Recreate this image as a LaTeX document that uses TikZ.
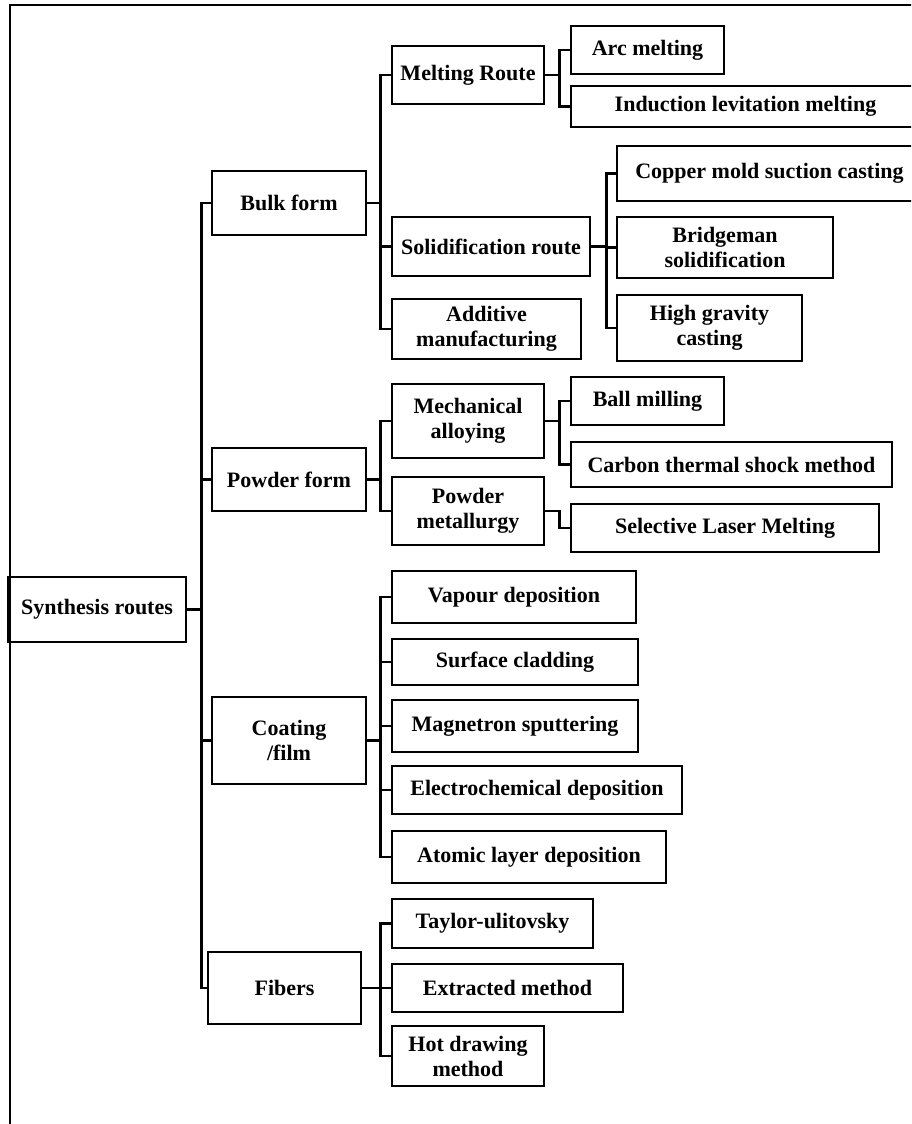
\documentclass[tikz,border=0pt]{standalone}
\usepackage{fontspec}
\setmainfont{Liberation Serif}

\begin{document}
\begin{tikzpicture}[x=0.5pt, y=-0.5pt,
  box/.style={draw, line width=1.3pt, inner sep=0pt, align=center,
    font=\bfseries\fontsize{11}{12.5}\selectfont},
  link/.style={line width=1.2pt}]
  \clip (0,0) rectangle (911,1124);
  \fill[white] (0,0) rectangle (911,1124);

  % --- Outer frame ---
  \draw[line width=1.2pt] (10,5) rectangle (1000,1200);

  % --- Root ---
  \node[box, minimum width=89pt, minimum height=32.5pt] (root) at (97,609.5) {Synthesis routes};

  % --- Forms ---
  \node[box, minimum width=77pt, minimum height=32pt] (bulk) at (289,203) {Bulk form};
  \node[box, minimum width=77pt, minimum height=31.5pt] (powder) at (289,479.5) {Powder form};
  \node[box, minimum width=77pt, minimum height=43.5pt] (coat) at (289,740.5) {Coating\\/film};
  \node[box, minimum width=76.5pt, minimum height=36pt] (fiber) at (284.5,988) {Fibers};

  % --- Bulk form ---
  \node[box, minimum width=76pt, minimum height=29pt] (melt) at (468,75) {Melting Route};
  \node[box, minimum width=99pt, minimum height=29.5pt] (solid) at (491,246.5) {Solidification route};
  \node[box, minimum width=94.5pt, minimum height=30pt] (addit) at (486.5,329) {Additive\\manufacturing};
  \node[box, minimum width=76.5pt, minimum height=24pt] (arc) at (647.5,50) {Arc melting};
  \node[box, minimum width=174.5pt, minimum height=20.5pt] (induct) at (745.5,106.5) {Induction levitation melting};
  \node[box, minimum width=152.5pt, minimum height=27.5pt] (copper) at (769.5,173.5) {Copper mold suction casting};
  \node[box, minimum width=108pt, minimum height=30.5pt] (bridge) at (725,247.5) {Bridgeman\\solidification};
  \node[box, minimum width=92.5pt, minimum height=33pt] (gravity) at (709.5,328) {High gravity\\casting};

  % --- Powder form ---
  \node[box, minimum width=76pt, minimum height=37pt] (mech) at (468,421) {Mechanical\\alloying};
  \node[box, minimum width=76pt, minimum height=34pt] (pmet) at (468,511) {Powder\\metallurgy};
  \node[box, minimum width=76.5pt, minimum height=24pt] (ball) at (647.5,401) {Ball milling};
  \node[box, minimum width=160.5pt, minimum height=22.5pt] (carbon) at (731.5,464.5) {Carbon thermal shock method};
  \node[box, minimum width=154pt, minimum height=24pt] (slm) at (725,528) {Selective Laser Melting};

  % --- Coating/film ---
  \node[box, minimum width=122pt, minimum height=26pt] (vapour) at (514,597) {Vapour deposition};
  \node[box, minimum width=123pt, minimum height=23pt] (clad) at (515,662) {Surface cladding};
  \node[box, minimum width=123pt, minimum height=26pt] (magnet) at (515,726) {Magnetron sputtering};
  \node[box, minimum width=145pt, minimum height=24pt] (electro) at (537,790) {Electrochemical deposition};
  \node[box, minimum width=137pt, minimum height=26pt] (atomic) at (529,857) {Atomic layer deposition};

  % --- Fibers ---
  \node[box, minimum width=100.5pt, minimum height=24.5pt] (taylor) at (492.5,923.5) {Taylor-ulitovsky};
  \node[box, minimum width=115.5pt, minimum height=24pt] (extract) at (507.5,988) {Extracted method};
  \node[box, minimum width=76pt, minimum height=30pt] (hotdraw) at (468,1056) {Hot drawing\\method};

  % --- Connectors ---
  \foreach \c in {bulk,powder,coat,fiber}
    \draw[link] (root.east) -- +(14,0) |- (\c.west);
  \foreach \c in {melt,solid,addit}
    \draw[link] (bulk.east) -- +(13,0) |- (\c.west);
  \foreach \c in {arc,induct}
    \draw[link] (melt.east) -- +(14,0) |- (\c.west);
  \foreach \c in {copper,bridge,gravity}
    \draw[link] (solid.east) -- +(15,0) |- (\c.west);
  \foreach \c in {mech,pmet}
    \draw[link] (powder.east) -- +(13,0) |- (\c.west);
  \foreach \c in {ball,carbon}
    \draw[link] (mech.east) -- +(14,0) |- (\c.west);
  \draw[link] (pmet.east) -- +(14,0) |- (slm.west);
  \foreach \c in {vapour,clad,magnet,electro,atomic}
    \draw[link] (coat.east) -- +(13,0) |- (\c.west);
  \foreach \c in {taylor,extract,hotdraw}
    \draw[link] (fiber.east) -- +(18,0) |- (\c.west);

\end{tikzpicture}
\end{document}
